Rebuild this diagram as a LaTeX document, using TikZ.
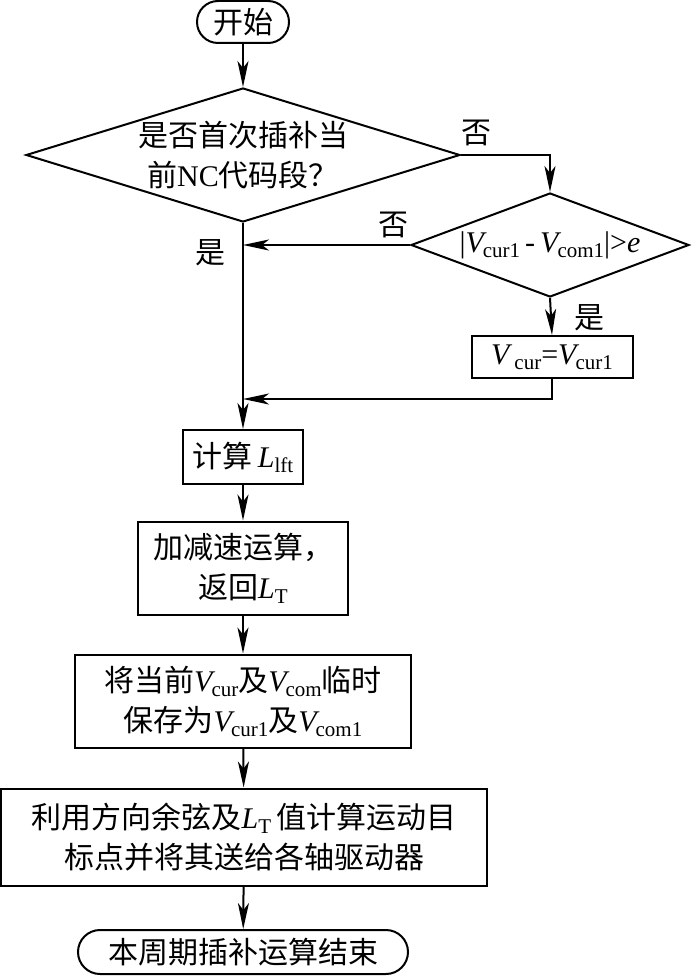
\documentclass[tikz,border=0pt]{standalone}
\usepackage{fontspec}
\setmainfont{Noto Sans CJK SC}
\newfontfamily\lat{Liberation Serif}
\usetikzlibrary{arrows.meta,positioning,shapes.geometric}
\newcommand{\vv}[1]{{\lat\itshape V}\kern-1pt\raisebox{-5pt}{\lat\fontsize{21}{21}\selectfont #1}}
\newcommand{\lt}[1]{{\lat\itshape L}\raisebox{-5pt}{\lat\fontsize{21}{21}\selectfont #1}}

\begin{document}
\begin{tikzpicture}[
    x=1pt, y=-1pt,
    every node/.style={font=\fontsize{30}{40}\selectfont},
    proc/.style={draw, line width=2pt, align=center, inner sep=0pt},
    term/.style={proc, rounded corners=21pt},
    decision/.style={draw, diamond, line width=2pt, align=center, inner sep=0pt},
    link/.style={-{Stealth[length=26pt, width=11pt, inset=7pt]}, line width=2pt}
]
\useasboundingbox (0,0) rectangle (694,976);
\node[term, minimum width=92pt, minimum height=42pt] (start) at (243,22) {开始};
\node[decision, aspect=3.24, minimum width=434pt, minimum height=134pt] (first) at (243,155) {是否首次插补当\\前{\lat NC}代码段？};
\node[decision, aspect=2.67, minimum width=278pt, minimum height=104pt] (diff) at (550,245) {{\lat |}\vv{cur1}\,{\lat -}\,\vv{com1}{\lat |>\itshape e}};
\node[proc, minimum width=161pt, minimum height=42pt] (setv) at (552,357) {{\lat\itshape V}\,\raisebox{-5pt}{\lat\fontsize{21}{21}\selectfont cur}{\lat =}\vv{cur1}};
\node[proc, minimum width=120pt, minimum height=54pt] (calc) at (243,457) {计算\,\lt{lft}};
\node[proc, minimum width=210pt, minimum height=93pt] (accel) at (243,568) {加减速运算，\\返回\lt{T}};
\node[proc, minimum width=336pt, minimum height=93pt] (save) at (243,701) {将当前\vv{cur}及\vv{com}临时\\保存为\vv{cur1}及\vv{com1}};
\node[proc, minimum width=486pt, minimum height=97pt] (move) at (244,837) {利用方向余弦及\lt{T}\,值计算运动目\\标点并将其送给各轴驱动器};
\node[term, rounded corners=22pt, minimum width=330pt, minimum height=44pt] (stop) at (243,952) {本周期插补运算结束};
\coordinate (join) at (243,399);
\node (no1) at (476,133) {否};
\node (no2) at (393,225) {否};
\node (yes1) at (210,253) {是};
\node (yes2) at (589,318) {是};
\draw[link] (start) -- (first);
\draw[link] (first.east) -| (diff.north);
\draw[link] (first.south) -- (calc.north);
\draw[link] (diff.west) -- (diff.west -| first.south);
\draw[link] (diff.south) -- (setv.north);
\draw[link] (setv.south) |- (join);
\draw[link] (calc) -- (accel);
\draw[link] (accel) -- (save);
\draw[link] (save) -- (move);
\draw[link] (move) -- (stop);
\end{tikzpicture}
\end{document}
